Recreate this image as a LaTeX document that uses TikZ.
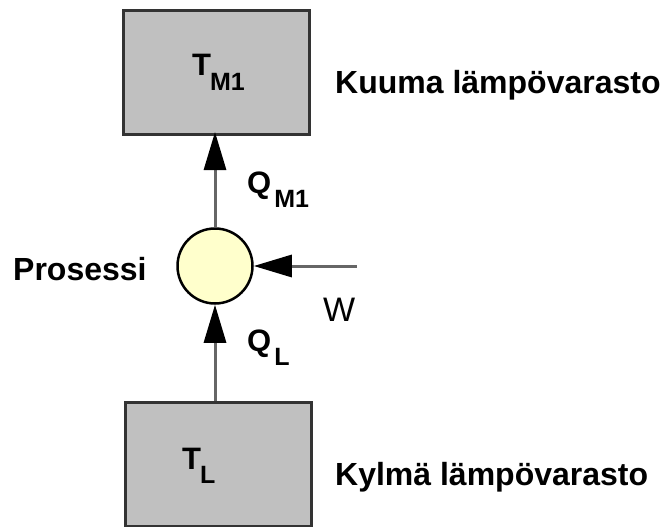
\documentclass[tikz,border=0pt]{standalone}
\usepackage{fontspec}
\setmainfont{Liberation Sans}
\usepackage{xcolor}
\usetikzlibrary{arrows.meta,positioning,calc}
\definecolor{boxgray}{HTML}{C0C0C0}
\definecolor{edgegray}{HTML}{333333}
\definecolor{shaftgray}{HTML}{666666}
\definecolor{procyellow}{HTML}{FFFFCC}
\newcommand{\symsub}[3][2pt]{{\fontsize{31}{31}\selectfont #2}\kern#1\raisebox{-14pt}{\fontsize{25}{25}\selectfont #3}}

\begin{document}
\begin{tikzpicture}[x=1pt,y=-1pt,
  res/.style={rectangle,draw=edgegray,fill=boxgray,line width=3pt,minimum width=186pt,minimum height=124pt,inner sep=0pt},
  proc/.style={circle,draw=black,fill=procyellow,line width=2.5pt,minimum size=75pt,inner sep=0pt},
  flow/.style={draw=shaftgray,line width=3pt,-{Triangle[length=38pt,width=22pt,color=black]}},
  lbl/.style={font=\fontsize{32}{32}\selectfont\bfseries,anchor=base west,inner sep=0pt},
  sym/.style={font=\bfseries,anchor=base west,inner sep=0pt}]
  \useasboundingbox (0,0) rectangle (661,527);
  \node[res](hot) at (216,72.5){};
  \node[res](cold) at (218.5,464){};
  \node[proc](p) at (215,266){};
  \coordinate (wstart) at (357,266);
  \draw[flow](p |- cold.north)--(p.south);
  \draw[flow,shorten >=-4pt](p.north)--(p |- hot.south);
  \draw[flow](wstart)--(p.east);
  \node[sym](thot) at (192,76){\symsub[-1pt]{T}{M1}};
  \node[sym](tcold) at (182,469){\symsub[-1pt]{T}{L}};
  \node[sym](qhot) at (247,193){\symsub[3pt]{Q}{M1}};
  \node[sym](qcold) at (247,351){\symsub[3pt]{Q}{L}};
  \node[anchor=base west,inner sep=0pt,font=\fontsize{34}{34}\selectfont](w) at (323,321){W};
  \node[lbl](plbl) at (13,280){Prosessi};
  \node[lbl](hlbl) at (335,93){Kuuma lämpövarasto};
  \node[lbl](clbl) at (335,485){Kylmä lämpövarasto};
\end{tikzpicture}
\end{document}
